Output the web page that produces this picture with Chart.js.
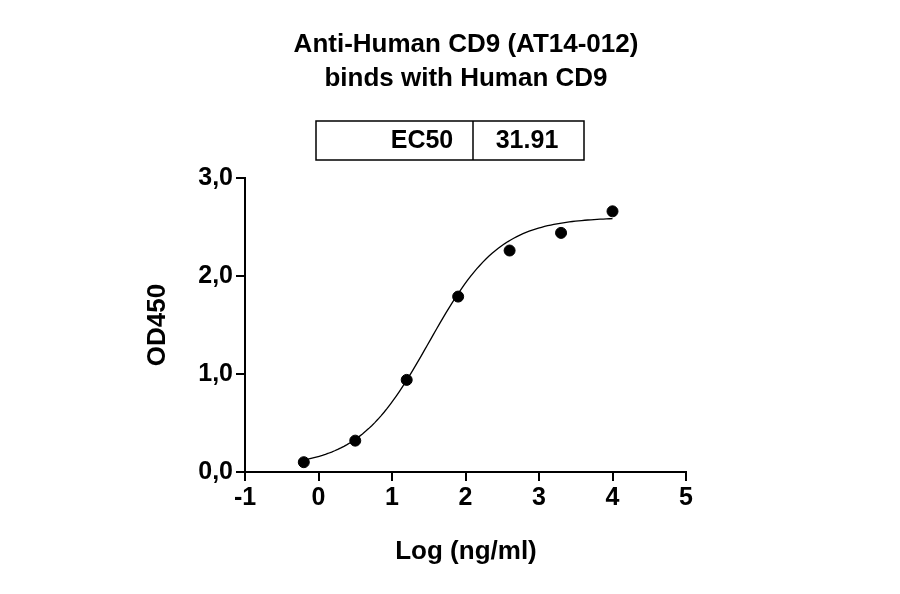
<!DOCTYPE html>
<html><head><meta charset="utf-8">
<script src="https://cdn.jsdelivr.net/npm/chart.js@4"></script>
<style>body{margin:0;background:#fff}#wrap{width:900px;height:594px}</style>
</head><body><div id="wrap"><canvas id="c"></canvas></div>
<script>
const titleLines = ['Anti-Human CD9 (AT14-012)', 'binds with Human CD9'];
const ec50Label = 'EC50';
const ec50Value = '31.91';
const xTitle = 'Log (ng/ml)';
const yTitle = 'OD450';
const logConc = [-0.2, 0.5, 1.2, 1.9, 2.6, 3.3, 4.0];
const od450 = [0.10, 0.32, 0.94, 1.79, 2.26, 2.44, 2.66];
// 4PL fit parameters (bottom, top, logEC50, hill)
const fitBottom = 0.05, fitTop = 2.6, fitLogEC50 = Math.log10(31.91), fitHill = 0.9;

const curve = [];
for (let i = 0; i <= 100; i++) {
    const x = -0.2 + i * 4.2 / 100;
    curve.push({x: x, y: fitBottom + (fitTop - fitBottom) / (1 + Math.pow(10, (fitLogEC50 - x) * fitHill))});
}
const font = 'Liberation Sans, Arial, sans-serif';

const headerPlugin = {
    id: 'header',
    afterDraw(chart) {
        const c = chart.ctx;
        c.save();
        c.fillStyle = '#000';
        c.font = 'bold 26px ' + font;
        c.textAlign = 'center';
        c.textBaseline = 'middle';
        c.fillText(titleLines[0], 466, 45);
        c.fillText(titleLines[1], 466, 79);
        c.lineWidth = 1.5;
        c.strokeStyle = '#000';
        c.strokeRect(316, 121, 268, 39);
        c.beginPath(); c.moveTo(473, 121); c.lineTo(473, 160); c.stroke();
        c.font = 'bold 25px ' + font;
        c.fillText(ec50Label, 422, 141);
        c.fillText(ec50Value, 527, 141);
        c.font = 'bold 26px ' + font;
        c.fillText(xTitle, 466, 552);
        c.translate(158, 325);
        c.rotate(-Math.PI / 2);
        c.fillText(yTitle, 0, 0);
        c.restore();
    }
};

new Chart(document.getElementById('c'), {
    type: 'scatter',
    data: {
        datasets: [{
            data: logConc.map((x, i) => ({x: x, y: od450[i]})),
            pointRadius: 5.5, pointBackgroundColor: '#000', pointBorderColor: '#000'
        }, {
            type: 'line', data: curve, borderColor: '#000', borderWidth: 1.3,
            pointRadius: 0, fill: false, tension: 0
        }]
    },
    options: {
        responsive: true, maintainAspectRatio: false, animation: false,
        layout: {padding: {top: 178, right: 214, left: 0, bottom: 0}},
        plugins: {legend: {display: false}, tooltip: {enabled: false}},
        scales: {
            x: {
                type: 'linear', min: -1, max: 5,
                afterFit(s) { s.height = 122; },
                grid: {display: true, drawOnChartArea: false, drawTicks: true, tickLength: 9, color: '#000', lineWidth: 2},
                border: {color: '#000', width: 2},
                ticks: {stepSize: 1, color: '#000', font: {family: font, size: 25, weight: 'bold'}, padding: 2}
            },
            y: {
                min: 0, max: 3,
                afterFit(s) { s.width = 245; },
                grid: {display: true, drawOnChartArea: false, drawTicks: true, tickLength: 9, color: '#000', lineWidth: 2},
                border: {color: '#000', width: 2},
                ticks: {stepSize: 1, color: '#000', font: {family: font, size: 25, weight: 'bold'}, padding: 3,
                    callback: v => v.toFixed(1).replace('.', ',')}
            }
        }
    },
    plugins: [headerPlugin]
});
</script></body></html>
